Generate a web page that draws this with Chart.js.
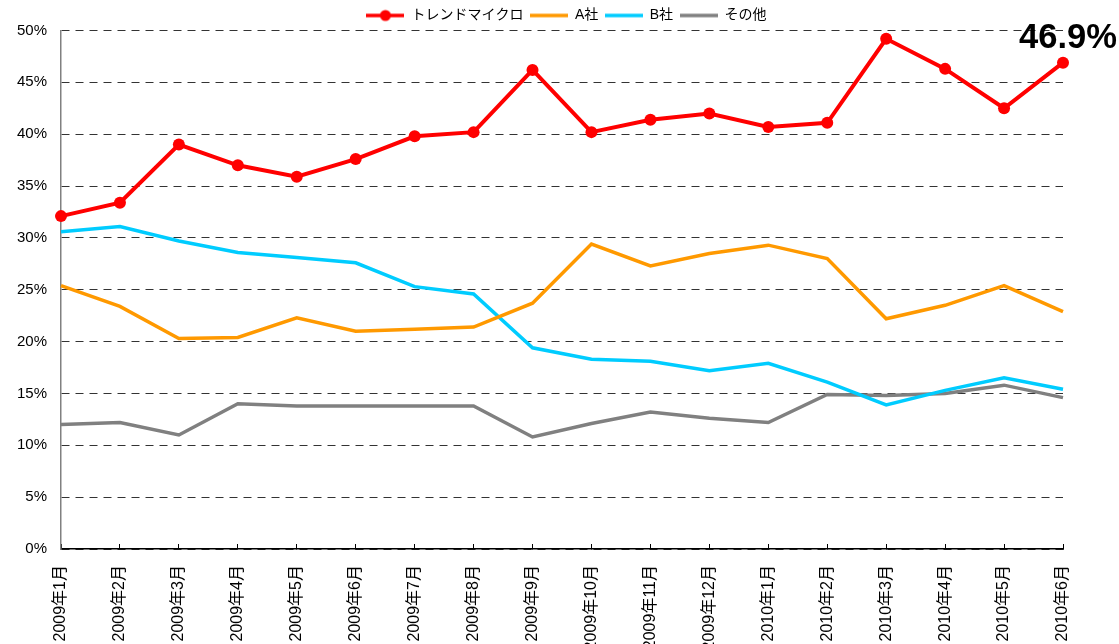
<!DOCTYPE html>
<html>
<head>
<meta charset="utf-8">
<script src="https://cdn.jsdelivr.net/npm/chart.js@4/dist/chart.umd.min.js"></script>
<style>
    html, body { margin: 0; padding: 0; background: #fff; }
    #wrap { width: 1119px; height: 644px; }
</style>
</head>
<body>
<div id="wrap"><canvas id="share"></canvas></div>
<script>
const months = ['2009年1月', '2009年2月', '2009年3月', '2009年4月', '2009年5月', '2009年6月',
    '2009年7月', '2009年8月', '2009年9月', '2009年10月', '2009年11月', '2009年12月',
    '2010年1月', '2010年2月', '2010年3月', '2010年4月', '2010年5月', '2010年6月'];

const trendMicro = [32.1, 33.4, 39.0, 37.0, 35.9, 37.6, 39.8, 40.2, 46.2, 40.2, 41.4, 42.0, 40.7, 41.1, 49.2, 46.3, 42.5, 46.9];
const companyA = [25.4, 23.4, 20.3, 20.4, 22.3, 21.0, 21.2, 21.4, 23.7, 29.4, 27.3, 28.5, 29.3, 28.0, 22.2, 23.5, 25.4, 22.9];
const companyB = [30.6, 31.1, 29.7, 28.6, 28.1, 27.6, 25.3, 24.6, 19.4, 18.3, 18.1, 17.2, 17.9, 16.1, 13.9, 15.3, 16.5, 15.4];
const others = [12.0, 12.2, 11.0, 14.0, 13.8, 13.8, 13.8, 13.8, 10.8, 12.1, 13.2, 12.6, 12.2, 14.9, 14.8, 15.0, 15.8, 14.6];

const yTicks = [0, 5, 10, 15, 20, 25, 30, 35, 40, 45, 50];
const lastLabel = '46.9%';

const FONT = '"Liberation Sans", Arial, "Noto Sans CJK JP", sans-serif';

// small legend swatch: line, optionally with a dot
function swatch(color, dot) {
    const c = document.createElement('canvas');
    c.width = 38;
    c.height = 14;
    const g = c.getContext('2d');
    g.strokeStyle = color;
    g.lineWidth = 3.5;
    g.beginPath();
    g.moveTo(0, 7);
    g.lineTo(38, 7);
    g.stroke();
    if (dot) {
        g.fillStyle = color;
        g.beginPath();
        g.arc(19, 7, 5.5, 0, Math.PI * 2);
        g.fill();
    }
    return c;
}

function line(label, data, color, withDots) {
    return {
        label: label,
        data: data,
        borderColor: color,
        backgroundColor: color,
        borderWidth: withDots ? 4 : 3.5,
        pointRadius: withDots ? 6 : 0,
        pointHoverRadius: withDots ? 6 : 0,
        pointBackgroundColor: color,
        pointBorderWidth: 0,
        tension: 0,
        fill: false,
        _swatch: swatch(color, withDots)
    };
}

// the big value callout above the last point, a bit condensed like the original
const lastValueLabel = {
    id: 'lastValueLabel',
    afterDatasetsDraw(chart) {
        const x = chart.scales.x.getPixelForValue(trendMicro.length - 1);
        const y = chart.scales.y.getPixelForValue(trendMicro[trendMicro.length - 1]);
        const ctx = chart.ctx;
        ctx.save();
        ctx.font = 'bold 35px ' + FONT;
        const w = ctx.measureText(lastLabel).width;
        const sx = 98 / w;
        ctx.translate(x + 5, y - 15);
        ctx.scale(sx, 1);
        ctx.fillStyle = '#000';
        ctx.textAlign = 'center';
        ctx.textBaseline = 'alphabetic';
        ctx.fillText(lastLabel, 0, 0);
        ctx.restore();
    }
};

// legend sits over the plot centre in the original, not the canvas centre
const legendNudge = {
    id: 'legendNudge',
    afterLayout(chart) {
        const lg = chart.legend;
        lg.left += 35;
        lg.right += 35;
        lg.top += 2;
        lg.bottom += 2;
    }
};

new Chart(document.getElementById('share').getContext('2d'), {
    type: 'line',
    data: {
        labels: months,
        datasets: [
            line('トレンドマイクロ', trendMicro, '#ff0000', true),
            line('A社', companyA, '#ff9900', false),
            line('B社', companyB, '#00ccff', false),
            line('その他', others, '#808080', false)
        ]
    },
    options: {
        responsive: true,
        maintainAspectRatio: false,
        animation: false,
        layout: { padding: { left: 0, right: 56, top: 0, bottom: 0 } },
        plugins: {
            tooltip: { enabled: false },
            legend: {
                position: 'top',
                labels: {
                    usePointStyle: true,
                    pointStyleWidth: 38,
                    padding: 6.5,
                    color: '#000',
                    font: { family: FONT, size: 14 },
                    generateLabels(chart) {
                        return chart.data.datasets.map((ds, i) => ({
                            text: ds.label,
                            fillStyle: ds.borderColor,
                            strokeStyle: ds.borderColor,
                            pointStyle: ds._swatch,
                            lineWidth: 0,
                            hidden: false,
                            datasetIndex: i,
                            fontColor: '#000'
                        }));
                    }
                }
            }
        },
        scales: {
            x: {
                offset: false,
                grid: {
                    drawOnChartArea: false,
                    drawTicks: true,
                    tickLength: -5,
                    color: '#000'
                },
                border: { color: '#000', width: 1.5 },
                ticks: {
                    autoSkip: false,
                    maxRotation: 90,
                    minRotation: 90,
                    padding: 21,
                    color: '#000',
                    font: { family: FONT, size: 16 }
                },
                afterFit(scale) { scale.height = 95; }
            },
            y: {
                min: 0,
                max: 50,
                afterBuildTicks(scale) {
                    scale.ticks = yTicks.map(v => ({ value: v }));
                },
                grid: {
                    drawTicks: false,
                    color: '#333',
                    lineWidth: 1
                },
                border: { color: '#808080', width: 1.5, dash: [8, 6] },
                ticks: {
                    padding: 14,
                    color: '#000',
                    font: { family: FONT, size: 15 },
                    callback: v => v + '%'
                },
                afterFit(scale) { scale.width = 61; }
            }
        }
    },
    plugins: [lastValueLabel, legendNudge]
});
</script>
</body>
</html>
